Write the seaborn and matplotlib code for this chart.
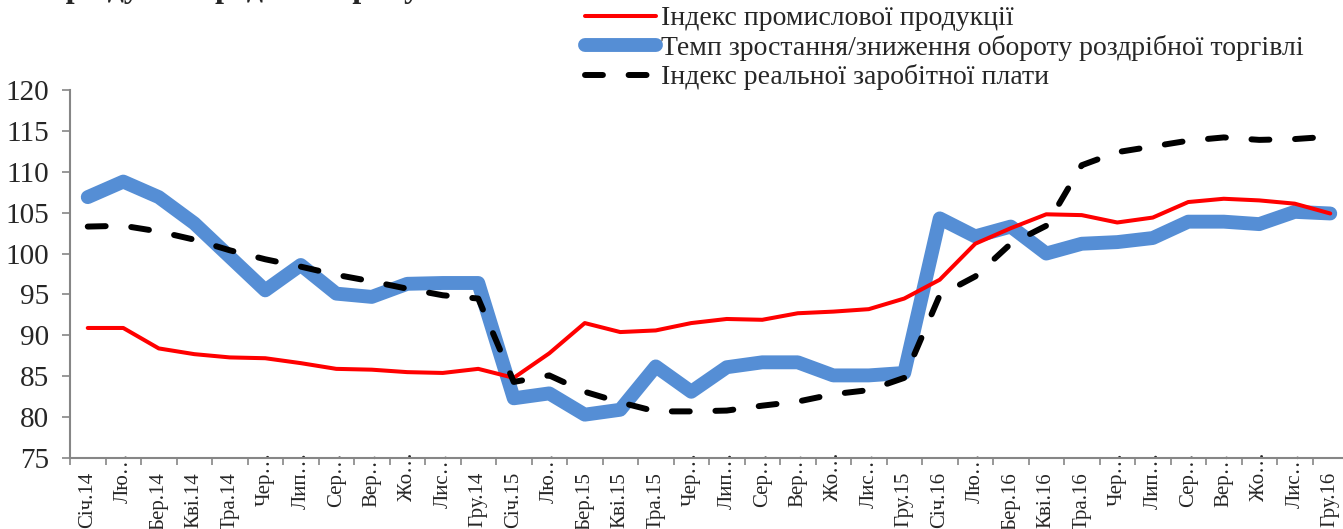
import numpy as np
import pandas as pd
import seaborn as sns
import matplotlib.pyplot as plt
from matplotlib.lines import Line2D
from matplotlib.transforms import ScaledTranslation


# month labels as they appear on the axis (long names are cut with "…")
month_names = ["Січ", "Лю…", "Бер", "Кві", "Тра", "Чер…", "Лип…", "Сер…", "Вер…", "Жо…", "Лис…", "Гру"]
years = ["14", "15", "16"]
months = []
for yr in years:
    for m in month_names:
        months.append(m if m.endswith("…") else m + "." + yr)

industry = [90.9, 90.9, 88.4, 87.7, 87.3, 87.2, 86.6, 85.9, 85.8, 85.5, 85.4, 85.9,
            84.8, 87.8, 91.5, 90.4, 90.6, 91.5, 92.0, 91.9, 92.7, 92.9, 93.2, 94.5,
            96.8, 101.2, 103.1, 104.8, 104.7, 103.8, 104.4, 106.3, 106.7, 106.5, 106.1, 104.9]
retail = [106.9, 108.8, 106.9, 103.7, 99.6, 95.5, 98.6, 95.1, 94.7, 96.3, 96.4, 96.4,
          82.3, 82.9, 80.3, 80.9, 86.2, 83.1, 86.1, 86.7, 86.7, 85.1, 85.1, 85.4,
          104.3, 102.1, 103.3, 100.0, 101.2, 101.4, 101.9, 103.9, 103.9, 103.6, 105.1, 104.9]
wages = [103.3, 103.4, 102.7, 101.7, 100.4, 99.3, 98.4, 97.4, 96.6, 95.7, 94.9, 94.5,
         84.3, 85.1, 83.1, 81.8, 80.7, 80.7, 80.8, 81.4, 81.9, 82.8, 83.3, 84.8,
         94.9, 97.2, 101.2, 103.4, 110.8, 112.4, 113.1, 113.8, 114.2, 113.9, 114.0, 114.3]

labels = ["Індекс промислової продукції",
          "Темп зростання/зниження обороту роздрібної торгівлі",
          "Індекс реальної заробітної плати"]

df = pd.DataFrame({"pos": np.arange(len(months)), "industry": industry,
                   "retail": retail, "wages": wages})

sns.set_style("white")
plt.rcParams['font.family'] = ['Liberation Serif', 'DejaVu Serif']

fig = plt.figure(figsize=(13.43, 5.29), dpi=100)
ax = fig.add_axes([70/1343, 1-458/529, 1278/1343, 368/529])

red = "#FF0000"
blue = "#558ED5"

sns.lineplot(data=df, x="pos", y="retail", color=blue, linewidth=10, ax=ax,
             solid_capstyle="round", solid_joinstyle="round")
sns.lineplot(data=df, x="pos", y="industry", color=red, linewidth=2.9, ax=ax)
sns.lineplot(data=df, x="pos", y="wages", color="black", linewidth=4.3, ax=ax)
wl = ax.lines[-1]
wl.set_dashes((3, 4.3))
wl.set_dash_capstyle("round")

ax.set_xlim(-0.5, len(months) - 0.5)
ax.set_ylim(75, 120)
ax.set_yticks(np.arange(75, 121, 5))
ax.set_xticks(np.arange(len(months)))
ax.set_xticklabels(months, rotation=90, fontsize=15)
ax.set_xticks(np.arange(-0.5, len(months), 1), minor=True)
ax.tick_params(axis="y", labelsize=21, left=True, length=6, width=1.2,
               color="#868686", pad=9)
ax.tick_params(axis="x", which="major", length=0, pad=10)
ax.tick_params(axis="x", which="minor", bottom=True, length=5, width=1.2, color="#868686")
ax.set_xlabel("")
ax.set_ylabel("")

# cut labels sit higher, like in the spreadsheet export
shift = ScaledTranslation(0, 0.2, fig.dpi_scale_trans)
for lab in ax.get_xticklabels():
    if lab.get_text().endswith("…"):
        lab.set_transform(lab.get_transform() + shift)

for side in ["top", "right"]:
    ax.spines[side].set_visible(False)
for side in ["left", "bottom"]:
    ax.spines[side].set_color("#868686")
    ax.spines[side].set_linewidth(1.5)

handles = [Line2D([], [], color=red, linewidth=2.9),
           Line2D([], [], color=blue, linewidth=10, solid_capstyle="round"),
           Line2D([], [], color="black", linewidth=4.3, dashes=(3, 4.3), dash_capstyle="round")]
fig.legend(handles, labels, loc="upper left", bbox_to_anchor=(574/1343, 1.01),
           frameon=False, fontsize=20, handlelength=2.55, handletextpad=0.18,
           labelspacing=0.13, borderaxespad=0)

# bottom line of the cut-off title
fig.text(33/1343, 1 + 3/529, "періоду попереднього року", fontsize=23,
         fontweight="bold", va="baseline", ha="left")

fig.savefig("out.png", dpi=100)
